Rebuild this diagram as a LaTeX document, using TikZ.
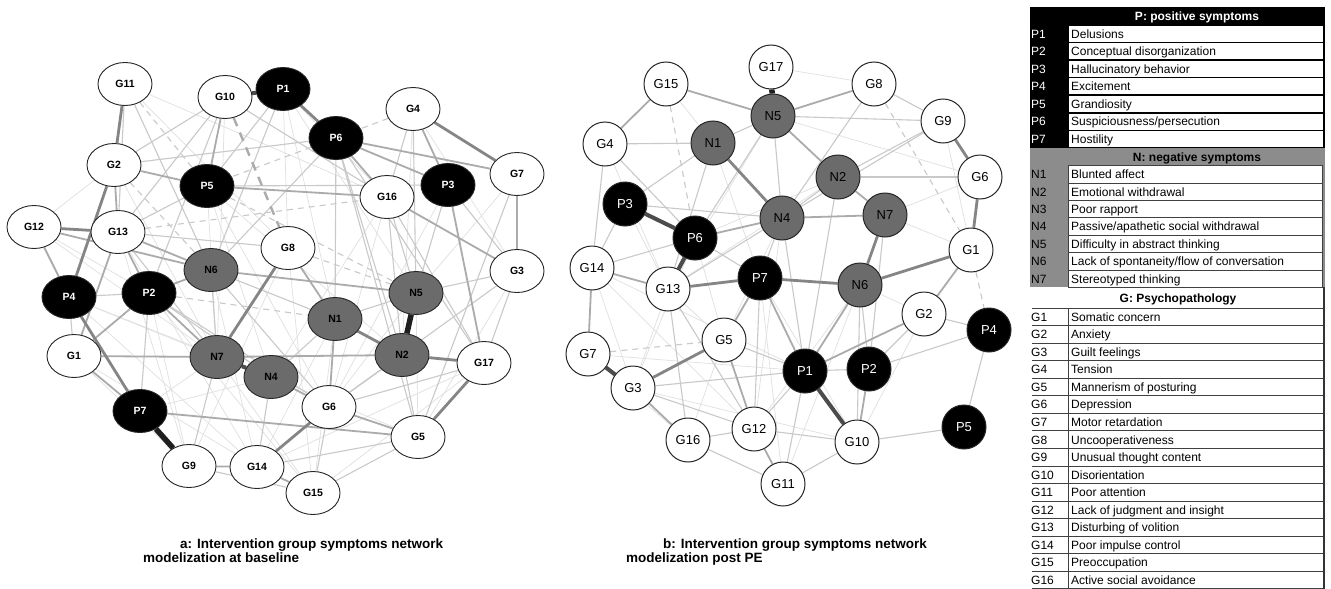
\documentclass[tikz,border=0pt]{standalone}
\usepackage{fontspec}
\setmainfont{Liberation Sans}
\usetikzlibrary{shapes.geometric}
\pgfdeclarelayer{bg}
\pgfdeclarelayer{edges}
\pgfsetlayers{bg,edges,main}
\definecolor{nodegray}{gray}{0.42}
\definecolor{tabgray}{gray}{0.55}
\definecolor{ca}{gray}{0.88}
\definecolor{cb}{gray}{0.79}
\definecolor{cc}{gray}{0.67}
\definecolor{cd}{gray}{0.52}
\definecolor{ce}{gray}{0.30}
\definecolor{cf}{gray}{0.12}
\newcommand{\tabfont}{\fontsize{12}{13}\selectfont}
\tikzset{
  lw/.style={line width=0.7pt, draw=ca},
  la/.style={line width=1.1pt, draw=cb},
  lb/.style={line width=1.8pt, draw=cc},
  lc/.style={line width=2.8pt, draw=cd},
  ld/.style={line width=4pt, draw=ce},
  le/.style={line width=5.5pt, draw=cf},
  dl/.style={line width=1.1pt, draw=cb, dash pattern=on 6pt off 5pt},
  dm/.style={line width=2.4pt, draw=cc, dash pattern=on 9pt off 7pt},
  ellbase/.style={ellipse, draw=black!85, line width=0.9pt, minimum width=54pt, minimum height=43pt, inner sep=0pt, font=\fontsize{10.5}{12}\selectfont\bfseries},
  ellW/.style={ellbase, fill=white, text=black},
  ellB/.style={ellbase, fill=black, text=white},
  ellN/.style={ellbase, fill=nodegray, text=black},
  cirbase/.style={circle, draw=black!85, line width=1pt, minimum size=44pt, inner sep=0pt, font=\fontsize{13}{15}\selectfont},
  cirW/.style={cirbase, fill=white, text=black},
  cirB/.style={cirbase, fill=black, text=white},
  cirN/.style={cirbase, fill=nodegray, text=black},
  captext/.style={anchor=base west, inner sep=0pt, font=\fontsize{13.5}{15}\selectfont\bfseries},
  tabtext/.style={anchor=base west, inner sep=0pt, font=\tabfont},
  tabhead/.style={anchor=base, inner sep=0pt, font=\tabfont\bfseries},
}
\begin{document}
\begin{tikzpicture}[x=1pt,y=-1pt]
\useasboundingbox (0,0) rectangle (1331,589);
\begin{pgfonlayer}{bg}
\fill[white] (0,0) rectangle (1331,589);
\end{pgfonlayer}

% ---------------- network a ----------------
\node[ellW] (aG11) at (125,84) {G11};
\node[ellW] (aG10) at (225,97) {G10};
\node[ellB] (aP1) at (283,89) {P1};
\node[ellB] (aP6) at (336,138) {P6};
\node[ellW] (aG4) at (413,109) {G4};
\node[ellB] (aP3) at (448,185) {P3};
\node[ellW] (aG7) at (517,174) {G7};
\node[ellW] (aG16) at (387,197) {G16};
\node[ellW] (aG2) at (114,165) {G2};
\node[ellB] (aP5) at (207,186) {P5};
\node[ellW] (aG12) at (34,227) {G12};
\node[ellW] (aG13) at (118,232) {G13};
\node[ellW] (aG8) at (288,248) {G8};
\node[ellW] (aG3) at (517,271) {G3};
\node[ellN] (aN6) at (211,270) {N6};
\node[ellB] (aP4) at (69,297) {P4};
\node[ellB] (aP2) at (149,293) {P2};
\node[ellN] (aN5) at (416,293) {N5};
\node[ellN] (aN1) at (335,319) {N1};
\node[ellN] (aN2) at (402,355) {N2};
\node[ellN] (aN7) at (217,357) {N7};
\node[ellN] (aN4) at (271,377) {N4};
\node[ellW] (aG1) at (74,356) {G1};
\node[ellW] (aG17) at (484,363) {G17};
\node[ellW] (aG6) at (329,407) {G6};
\node[ellB] (aP7) at (140,411) {P7};
\node[ellW] (aG5) at (418,437) {G5};
\node[ellW] (aG9) at (189,466) {G9};
\node[ellW] (aG14) at (257,467) {G14};
\node[ellW] (aG15) at (313,493) {G15};

% ---------------- network b ----------------
\node[cirW] (bG17) at (771,67) {G17};
\node[cirN] (bN5) at (773,116) {N5};
\node[cirW] (bG15) at (666,84) {G15};
\node[cirW] (bG8) at (874,84) {G8};
\node[cirW] (bG4) at (605,144) {G4};
\node[cirN] (bN1) at (713,143) {N1};
\node[cirW] (bG9) at (943,121) {G9};
\node[cirN] (bN2) at (838,177) {N2};
\node[cirW] (bG6) at (980,177) {G6};
\node[cirB] (bP3) at (625,204) {P3};
\node[cirN] (bN4) at (782,218) {N4};
\node[cirN] (bN7) at (885,215) {N7};
\node[cirB] (bP6) at (695,238) {P6};
\node[cirW] (bG14) at (592,268) {G14};
\node[cirW] (bG1) at (971,250) {G1};
\node[cirW] (bG13) at (668,289) {G13};
\node[cirB] (bP7) at (760,278) {P7};
\node[cirN] (bN6) at (860,285) {N6};
\node[cirW] (bG2) at (924,314) {G2};
\node[cirB] (bP4) at (989,330) {P4};
\node[cirW] (bG7) at (588,354) {G7};
\node[cirW] (bG5) at (724,340) {G5};
\node[cirW] (bG3) at (633,388) {G3};
\node[cirB] (bP1) at (805,371) {P1};
\node[cirB] (bP2) at (869,369) {P2};
\node[cirW] (bG16) at (688,440) {G16};
\node[cirW] (bG12) at (754,429) {G12};
\node[cirW] (bG10) at (857,442) {G10};
\node[cirB] (bP5) at (964,427) {P5};
\node[cirW] (bG11) at (783,484) {G11};

\begin{pgfonlayer}{edges}
% network a
\foreach \u/\v in {aG11/aG8, aG11/aG16, aG10/aN7, aP1/aG16, aP1/aN5, aP5/aN7, aP5/aN4, aP5/aG6, aP5/aN2, aG2/aN7, aG12/aN7, aG12/aP2, aP4/aN7, aP4/aG14, aP2/aG9, aP2/aG15, aN7/aG15, aN4/aG5, aN1/aG14, aN1/aG15, aG17/aG15, aG17/aG14, aN5/aG5, aN5/aG6, aG16/aG6, aG16/aN4, aG4/aG3, aG4/aN2, aG7/aN5, aG8/aG9, aG8/aG15, aP7/aN7, aP7/aN4, aG1/aG9, aP3/aG6, aG3/aG5, aN6/aG14, aG12/aG2, aP1/aN1, aP1/aG8, aG13/aG14, aG1/aG14, aG13/aG9, aP4/aN4}
  \draw[lw] (\u) -- (\v);
\foreach \u/\v in {aG11/aG13, aG11/aN6, aG10/aG2, aG10/aG13, aG10/aP2, aG10/aG16, aP1/aP5, aP1/aN6, aP6/aN6, aP6/aN1, aP6/aG5, aP6/aG17, aP6/aN2, aG4/aG16, aG4/aN5, aG2/aP6, aP5/aP3, aG16/aN5, aG16/aN2, aG16/aG17, aP3/aG3, aP3/aN5, aG7/aG5, aG3/aG17, aG3/aN5, aG3/aG6, aG13/aP5, aG13/aG8, aG13/aN7, aN6/aN7, aN6/aN1, aN6/aG6, aP4/aG1, aP2/aN4, aP2/aG6, aP2/aP7, aN7/aG9, aN4/aG14, aN4/aN1, aN1/aN5, aN2/aG6, aN2/aG5, aG17/aG6, aG5/aG15, aG5/aG14, aG6/aG15, aG9/aG15, aP4/aP2}
  \draw[la] (\u) -- (\v);
\foreach \u/\v in {aG11/aP5, aG4/aP6, aP6/aP5, aG2/aN6, aP2/aN1, aG8/aN5, aP5/aN5, aG13/aG16}
  \draw[dl] (\u) -- (\v);
\draw[dm] (aG10) -- (aG8);
\foreach \u/\v in {aG13/aG1, aG16/aG3, aP6/aP3, aG4/aP3, aG14/aG15, aG9/aG14, aG8/aN1, aN1/aG6, aG2/aP5, aG10/aP5, aP6/aG7, aG7/aG3, aP3/aG17, aG1/aP2, aG1/aN7, aP7/aG5, aN7/aN2, aG6/aG5, aG1/aP7, aP2/aN6, aG12/aP4, aG12/aN6, aN6/aN5, aG13/aN6, aN4/aG6, aP5/aG16, aG13/aP2, aG2/aG13, aP2/aN7, aP6/aG16}
  \draw[lb] (\u) -- (\v);
\foreach \u/\v in {aP4/aP7, aP1/aP6, aG12/aG13, aG17/aG5, aG6/aG14, aN2/aG17, aG11/aG2, aG2/aP4, aG8/aN7, aN1/aN2, aG4/aG7}
  \draw[lc] (\u) -- (\v);
\foreach \u/\v in {aN7/aN4, aP1/aG10}
  \draw[ld] (\u) -- (\v);
\foreach \u/\v in {aP7/aG9, aN5/aN2}
  \draw[le] (\u) -- (\v);
% network b
\foreach \u/\v in {bG15/bN1, bG17/bG8, bN5/bG6, bN5/bG13, bG9/bG1, bN2/bP6, bN2/bG13, bN7/bG1, bN7/bG6, bN4/bG5, bN4/bG12, bN6/bG12, bN6/bG11, bP6/bG5, bP6/bG3, bG14/bG3, bG14/bP1, bG13/bG3, bG13/bG5, bG7/bG16, bG5/bG16, bP7/bG11, bP7/bG10, bN1/bP7, bG4/bG13, bP3/bG13, bG14/bG12, bG7/bP1, bG3/bG10, bG2/bG10, bG2/bN6}
  \draw[lw] (\u) -- (\v);
\foreach \u/\v in {bG4/bP6, bG4/bN1, bG4/bG14, bN1/bN5, bN1/bP3, bN1/bG13, bN5/bN4, bN5/bP6, bN5/bG9, bG8/bG9, bG8/bN4, bG9/bN2, bG9/bN4, bN2/bG6, bN2/bN4, bN2/bP1, bN4/bP7, bN4/bP1, bN4/bG13, bN7/bP2, bP3/bG14, bP3/bN4, bP6/bP7, bP6/bG14, bN6/bP2, bG2/bP4, bP4/bP2, bP4/bP5, bP1/bP2, bP1/bG11, bP1/bG12, bG16/bG11, bG16/bG12, bG10/bP5, bG10/bG11, bG10/bG12, bG13/bG16, bG13/bG12, bP7/bG12, bG3/bG12, bG3/bP1, bN6/bG10, bG2/bP2, bG5/bP1}
  \draw[la] (\u) -- (\v);
\foreach \u/\v in {bG15/bP6, bG8/bG1, bG1/bP4, bG7/bG5}
  \draw[dl] (\u) -- (\v);
\foreach \u/\v in {bN5/bN2, bG14/bG7, bG15/bG4, bN2/bN7, bN4/bN7, bG2/bG1, bG12/bG11, bP2/bG10, bP1/bG2, bG15/bN5, bG8/bN5, bP6/bN4, bG3/bG16, bP7/bP1, bG5/bP7, bG14/bG13, bG5/bG12, bN6/bP1}
  \draw[lb] (\u) -- (\v);
\foreach \u/\v in {bN6/bG1, bG1/bG6, bG6/bG9, bP7/bN6, bG13/bP7, bN1/bN4, bG3/bG5, bN7/bN6}
  \draw[lc] (\u) -- (\v);
\foreach \u/\v in {bP3/bP6, bP6/bG13, bG7/bG3, bP1/bG10}
  \draw[ld] (\u) -- (\v);
\draw[le] (bG17) -- (bN5);
\end{pgfonlayer}

% ---------------- captions ----------------
\node[captext] (capa1) at (180,548.5) {a: Intervention group symptoms network};
\node[captext] (capa2) at (143,562) {modelization at baseline};
\node[captext] (capb1) at (663,548.5) {b: Intervention group symptoms network};
\node[captext] (capb2) at (626,562) {modelization post PE};

% ---------------- table ----------------
% P block
\fill[black] (1030,7.3) rectangle (1325,147.85);
\foreach \k in {1,...,7}
  \fill[white] (1068.5,{25+17.55*(\k-1)+0.8}) rectangle (1322.8,{25+17.55*\k-0.8});
\node[tabhead, text=white] (hP) at (1197,20.3) {P: positive symptoms};
\foreach \d [count=\k] in {Delusions, Conceptual disorganization, Hallucinatory behavior, Excitement, Grandiosity, Suspiciousness/persecution, Hostility}{
  \node[tabtext, text=white] (cP\k) at (1031,{38.2+17.55*(\k-1)}) {P\k};
  \node[tabtext] (dP\k) at (1071,{38.2+17.55*(\k-1)}) {\d};
}
% N block
\fill[tabgray] (1030,147.85) rectangle (1325,287.3);
\foreach \k in {1,...,7}
  \filldraw[fill=white, draw=black!75, line width=0.8pt] (1068.5,{165.5+17.4*(\k-1)}) rectangle (1322.8,{165.5+17.4*\k});
\node[tabhead] (hN) at (1197,161) {N: negative symptoms};
\foreach \d [count=\k] in {Blunted affect, Emotional withdrawal, Poor rapport, Passive/apathetic social withdrawal, Difficulty in abstract thinking, Lack of spontaneity/flow of conversation, Stereotyped thinking}{
  \node[tabtext] (cN\k) at (1031,{178.6+17.4*(\k-1)}) {N\k};
  \node[tabtext] (dN\k) at (1071,{178.6+17.4*(\k-1)}) {\d};
}
% G block
\foreach \k in {0,...,16}
  \draw[black!75, line width=0.8pt] (1032,{308+17.55*\k}) -- (1325,{308+17.55*\k});
\draw[black!75, line width=0.8pt] (1068.2,308) -- (1068.2,589);
\draw[black!80, line width=2.5pt] (1324,287.3) -- (1324,589);
\node[tabhead] (hG) at (1178,302) {G: Psychopathology};
\foreach \d [count=\k] in {Somatic concern, Anxiety, Guilt feelings, Tension, Mannerism of posturing, Depression, Motor retardation, Uncooperativeness, Unusual thought content, Disorientation, Poor attention, Lack of judgment and insight, Disturbing of volition, Poor impulse control, Preoccupation, Active social avoidance}{
  \node[tabtext] (cG\k) at (1031,{321.2+17.55*(\k-1)}) {G\k};
  \node[tabtext] (dG\k) at (1071,{321.2+17.55*(\k-1)}) {\d};
}
\end{tikzpicture}
\end{document}
